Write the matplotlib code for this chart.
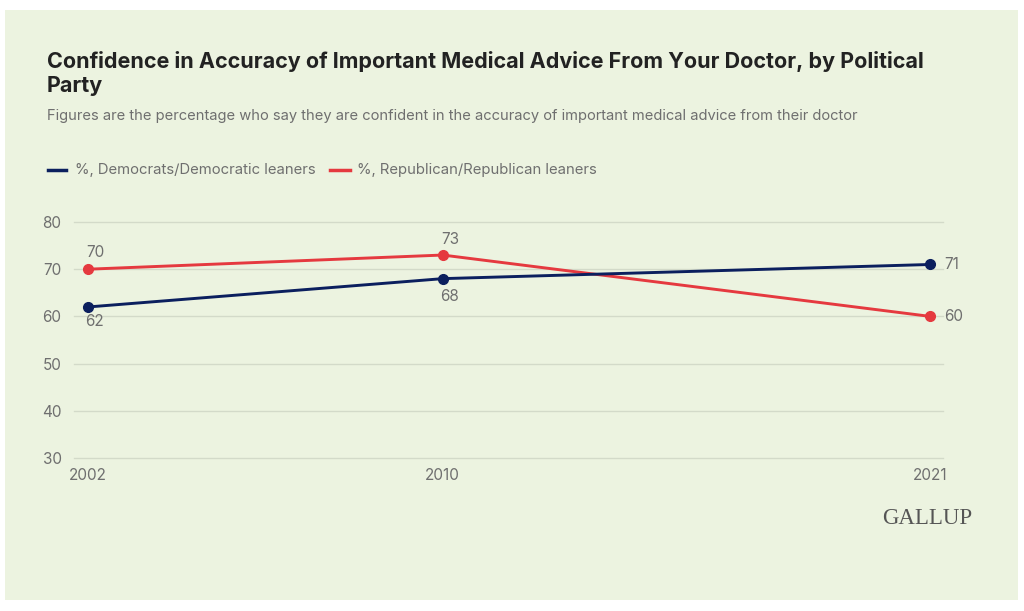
import matplotlib.pyplot as plt
from matplotlib.patches import Rectangle

years = [2002, 2010, 2021]
dems = [62, 68, 71]
reps = [70, 73, 60]
dem_label = '%, Democrats/Democratic leaners'
rep_label = '%, Republican/Republican leaners'
yticks = [30, 40, 50, 60, 70, 80]

navy = '#0b1f5e'
red = '#e5393f'
grey = '#6f6f6f'
bg = '#ecf3e0'

plt.rcParams['font.family'] = ['Inter', 'DejaVu Sans']

fig = plt.figure(figsize=(10.24, 6.11), dpi=100, facecolor='white')
fig.patches.append(Rectangle((5/1024, 1-600/611), 1013/1024, 590/611,
                             transform=fig.transFigure, facecolor=bg,
                             edgecolor='none', zorder=-1))

ax = fig.add_axes([74/1024, 1-458/611, 869/1024, 236/611])
ax.set_facecolor('none')

ax.plot(years, reps, color=red, lw=2.1, marker='o', ms=7, zorder=3)
ax.plot(years, dems, color=navy, lw=2.1, marker='o', ms=7, zorder=4)

# value labels: (x offset, y offset) in points
offs_dem = [(4.5, -10.5), (5, -13), (10, 0)]
offs_rep = [(5.5, 12), (5.5, 11), (10, 0)]
for i, y in enumerate(years):
    for vals, offs in ((dems, offs_dem), (reps, offs_rep)):
        dx, dy = offs[i]
        ha = 'left' if dy == 0 else 'center'
        ax.annotate(str(vals[i]), (y, vals[i]), xytext=(dx, dy),
                    textcoords='offset points', ha=ha, va='center',
                    fontsize=11, color=grey)

ax.set_xlim(2001.68, 2021.29)
ax.set_ylim(30, 80)
ax.set_xticks(years)
ax.set_yticks(yticks)
ax.tick_params(length=0, labelsize=11, labelcolor=grey)
ax.tick_params(axis='y', pad=9)
ax.tick_params(axis='x', pad=7)
ax.grid(axis='y', color='#d3dac9', lw=1)
for gl in ax.get_ygridlines():
    gl.set_clip_on(False)
ax.set_axisbelow(True)
for s in ax.spines.values():
    s.set_visible(False)

fig.text(47/1024, 1-62/611, 'Confidence in Accuracy of Important Medical Advice From Your Doctor, by Political',
         fontsize=15.5, fontweight='bold', color='#222222', va='center')
fig.text(47/1024, 1-86/611, 'Party', fontsize=15.5, fontweight='bold', color='#222222', va='center')
fig.text(47/1024, 1-116/611, 'Figures are the percentage who say they are confident in the accuracy of important medical advice from their doctor',
         fontsize=10.6, color=grey, va='center')

# legend
ly = 1-170/611
fig.add_artist(plt.Line2D([48/1024, 66/1024], [ly, ly], color=navy, lw=2.5))
fig.text(75/1024, ly, dem_label, fontsize=10.7, color=grey, va='center')
fig.add_artist(plt.Line2D([330/1024, 350/1024], [ly, ly], color=red, lw=2.5))
fig.text(357/1024, ly, rep_label, fontsize=10.7, color=grey, va='center')

fig.text(972/1024, 1-519/611, 'GALLUP', family=['Liberation Serif', 'DejaVu Serif'],
         fontsize=16.5, color='#555555', ha='right', va='center')

fig.savefig('out.png', dpi=100, facecolor='white')
